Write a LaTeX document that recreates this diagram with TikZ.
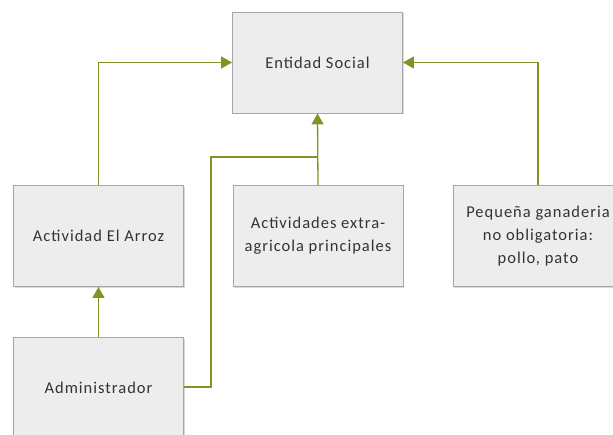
\documentclass[tikz,border=0pt]{standalone}
\usepackage{fontspec}
\setmainfont{Carlito}[LetterSpace=6]
\usetikzlibrary{arrows.meta,shadows}
\definecolor{linkgreen}{RGB}{128,148,38}
\definecolor{boxfill}{RGB}{237,237,237}
\definecolor{boxline}{RGB}{165,165,165}
\tikzset{
  x=1pt, y=1pt,
  unit/.style={draw=boxline, fill=boxfill, line width=0.9pt,
    minimum width=170pt, minimum height=101pt, inner sep=2pt,
    align=center, font=\fontsize{16.5}{23}\selectfont, text=black!80,
    drop shadow={shadow xshift=1.2pt, shadow yshift=-1.2pt, fill=black!25, opacity=0.6}},
  link/.style={draw=linkgreen, line width=1.3pt,
    -{Triangle[length=11pt,width=12pt,fill=linkgreen]}},
  plainlink/.style={draw=linkgreen, line width=1.3pt}
}
\begin{document}
\begin{tikzpicture}
\useasboundingbox (0,0) rectangle (613,435);
\clip (0,0) rectangle (613,435);
\fill[white] (0,0) rectangle (613,435);
% boxes (y measured upward from the bottom edge)
\node[unit] (ent) at (317.5,372.5) {Entidad Social};
\node[unit] (arroz) at (98.5,199) {Actividad El Arroz};
\node[unit] (extra) at (318,199) {Actividades extra-\\agricola principales};
\node[unit] (gan) at (538,199) {Pequeña ganaderia\\no obligatoria:\\pollo, pato};
\node[unit] (admin) at (98.5,47) {Administrador};
% connectors
\coordinate (join) at (extra.north |- 0,278);
\draw[link] (arroz.north) |- (ent.west);
\draw[link] (gan.north) |- (ent.east);
\draw[link] (extra.north) -- (ent.south);
\draw[plainlink] (admin.east |- 0,48) -| (211,278) -- (join);
\draw[link] (admin.north) -- (arroz.south);
\end{tikzpicture}
\end{document}
